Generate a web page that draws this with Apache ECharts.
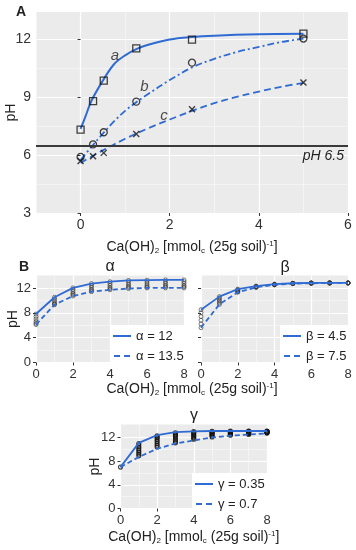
<!DOCTYPE html>
<html><head><meta charset="utf-8">
<script src="https://cdn.jsdelivr.net/npm/echarts@6/dist/echarts.min.js"></script>
<style>html,body{margin:0;padding:0;background:#fff}#c{width:356px;height:550px}</style>
</head><body><div id="c"></div>
<script>
// ---------- Panel A data ----------
const aCurveX = [0, 0.1, 0.25, 0.5, 0.75, 1, 1.25, 1.5, 2, 2.5, 3, 4, 5];
const aCurveY = [7.36, 7.95, 8.85, 9.87, 10.72, 11.18, 11.5, 11.72, 12.0, 12.13, 12.2, 12.27, 12.3];
const bCurveX = [0, 0.25, 0.5, 0.75, 1, 1.25, 1.5, 2, 2.5, 3, 3.5, 4, 4.5, 5];
const bCurveY = [5.75, 6.45, 7.12, 7.75, 8.3, 8.75, 9.15, 9.9, 10.55, 11.0, 11.35, 11.62, 11.87, 12.05];
const cCurveX = [0, 0.5, 1, 1.5, 2, 2.5, 3, 3.5, 4, 4.5, 5];
const cCurveY = [5.6, 6.25, 6.85, 7.38, 7.85, 8.3, 8.7, 9.02, 9.3, 9.55, 9.75];
const doseA = [0, 0.28, 0.52, 1.25, 2.5, 5];
const obsA = [7.33, 8.81, 9.87, 11.54, 12.0, 12.31];
const obsB = [5.91, 6.56, 7.19, 8.78, 10.8, 12.05];
const obsC = [5.7, 5.95, 6.12, 7.1, 8.38, 9.77];
const threshold = 6.5;
const curveNames = ['a', 'b', 'c'];
const curveNameX = [0.77, 1.43, 1.87];
const curveNameY = [11.15, 9.55, 8.04];
const aXTicks = [0, 2, 4, 6];
const aXMinor = [-1, 1, 3, 5];
const aYTicks = [3, 6, 9, 12];
const aYMinor = [4.5, 7.5, 10.5];

// ---------- Panel B data ----------
const doseB = [0, 1, 2, 3, 4, 5, 6, 7, 8];
const alphaLow = [7.8, 10.5, 12.0, 12.7, 13.0, 13.2, 13.25, 13.3, 13.3];   // alpha = 12
const alphaHigh = [6.1, 9.3, 10.7, 11.4, 11.7, 11.9, 12.0, 12.0, 12.0];    // alpha = 13.5
const alphaCols = [
  [7.8, 7.4, 7.0, 6.6, 6.3, 6.1],
  [10.5, 10.2, 9.9, 9.6, 9.4, 9.3],
  [12.0, 11.7, 11.4, 11.1, 10.9, 10.7],
  [12.7, 12.4, 12.1, 11.8, 11.6, 11.4],
  [13.0, 12.7, 12.4, 12.1, 11.9, 11.7],
  [13.2, 12.9, 12.6, 12.3, 12.1, 11.9],
  [13.25, 12.95, 12.65, 12.35, 12.15, 12.0],
  [13.3, 13.0, 12.7, 12.4, 12.2, 12.0],
  [13.3, 13.0, 12.7, 12.4, 12.2, 12.0]
];
const betaLow = [8.5, 10.6, 11.8, 12.3, 12.6, 12.75, 12.8, 12.8, 12.8];    // beta = 4.5
const betaHigh = [5.6, 9.35, 11.3, 12.1, 12.5, 12.7, 12.75, 12.8, 12.8];   // beta = 7.5
const betaCols = [
  [8.5, 8.0, 7.4, 6.8, 6.2, 5.6],
  [10.6, 10.35, 10.1, 9.85, 9.6, 9.35],
  [11.8, 11.7, 11.6, 11.5, 11.4, 11.3],
  [12.3, 12.25, 12.2, 12.15, 12.1, 12.1],
  [12.6, 12.58, 12.55, 12.53, 12.51, 12.5],
  [12.75, 12.74, 12.73, 12.72, 12.71, 12.7],
  [12.8, 12.79, 12.78, 12.77, 12.76, 12.75],
  [12.8, 12.8, 12.8, 12.8, 12.8, 12.8],
  [12.8, 12.8, 12.8, 12.8, 12.8, 12.8]
];
const gammaLow = [7.0, 11.1, 12.4, 12.9, 13.05, 13.1, 13.1, 13.1, 13.1];   // gamma = 0.35
const gammaHigh = [7.0, 8.7, 10.1, 11.0, 11.5, 12.0, 12.3, 12.5, 12.7];    // gamma = 0.7
const gammaCols = [
  [7.0],
  [11.0, 10.7, 10.4, 10.1, 9.8, 9.5, 9.2, 8.9],
  [12.3, 12.1, 11.9, 11.6, 11.3, 11.0, 10.7, 10.4],
  [12.8, 12.6, 12.4, 12.2, 11.9, 11.6, 11.3, 11.1],
  [13.0, 12.85, 12.7, 12.5, 12.3, 12.1, 11.9, 11.7],
  [13.05, 12.95, 12.85, 12.7, 12.55, 12.4, 12.25, 12.1],
  [13.1, 13.0, 12.9, 12.8, 12.7, 12.6, 12.5, 12.4],
  [13.1, 13.05, 12.95, 12.85, 12.8, 12.7, 12.6, 12.55],
  [13.1, 13.05, 13.0, 12.95, 12.9, 12.85, 12.8, 12.75]
];
const bXTicks = [0, 2, 4, 6, 8];
const bXMinor = [1, 3, 5, 7];
const bYTicks = [0, 4, 8, 12];
const bYMinor = [2, 6, 10];

// ---------- helpers ----------
const FONT = 'Liberation Sans, Arial, sans-serif';
const BLUE = '#2f6bd3';
const pairs = (xs, ys) => xs.map((x, i) => [x, ys[i]]);
const colPts = (xs, cols) => { const out = []; cols.forEach((c, i) => c.forEach(v => out.push([xs[i], v]))); return out; };
const subRich = {
  sub: { fontSize: 8, fontFamily: FONT, color: '#222', padding: [7, 0, 0, 0] },
  sup: { fontSize: 8, fontFamily: FONT, color: '#222', padding: [0, 0, 7, 0] }
};
const xName = 'Ca(OH){sub|2} [mmol{sub|c} (25g soil){sup|-1}]';
const ICON_SOLID = 'path://M0,0H18V2H0Z';
const ICON_DASH = 'path://M0,0H6V2H0ZM10,0H16V2H10Z';

function majorAxis(grid, min, max, ticks, showLabels, fs, extra) {
  return Object.assign({
    type: 'value', gridIndex: grid, min: min, max: max,
    axisLine: { show: false },
    axisTick: { show: true, length: 3, customValues: ticks, lineStyle: { color: '#333', width: 1 } },
    axisLabel: { show: showLabels, customValues: ticks, fontSize: fs, fontFamily: FONT, color: '#333', margin: 5 },
    splitLine: { show: true, lineStyle: { color: '#ffffff', width: 1.2 } }
  }, extra || {});
}
function minorAxis(grid, min, max, ticks, pos) {
  return {
    type: 'value', gridIndex: grid, min: min, max: max, position: pos,
    axisLine: { show: false },
    axisTick: { show: false, customValues: ticks },
    axisLabel: { show: false, customValues: ticks },
    splitLine: { show: true, lineStyle: { color: '#f8f8f8', width: 0.7 } }
  };
}
const yName = (gap) => ({
  name: 'pH', nameLocation: 'middle', nameGap: gap, nameMoveOverlap: false,
  nameTextStyle: { fontSize: 14, fontFamily: FONT, color: '#222' }
});

const grids = [
  { left: 36, top: 12, width: 312, height: 201 },
  { left: 36, top: 275.5, width: 148, height: 87 },
  { left: 201, top: 275.5, width: 147, height: 87 },
  { left: 120.5, top: 424.5, width: 146.5, height: 84 }
].map(g => Object.assign(g, { show: true, backgroundColor: '#ebebeb', borderWidth: 0, containLabel: false, outerBoundsMode: 'none' }));

const xAxes = [
  majorAxis(0, -1, 6, aXTicks, true, 14, {
    name: xName, nameLocation: 'middle', nameGap: 27,
    nameTextStyle: { fontSize: 14, fontFamily: FONT, color: '#222', rich: subRich }
  }),
  minorAxis(0, -1, 6, aXMinor, 'bottom'),
  majorAxis(1, 0, 8, bXTicks, true, 13),
  minorAxis(1, 0, 8, bXMinor, 'bottom'),
  majorAxis(2, 0, 8, bXTicks, true, 13),
  minorAxis(2, 0, 8, bXMinor, 'bottom'),
  majorAxis(3, 0, 8, bXTicks, true, 13, {
    name: xName, nameLocation: 'middle', nameGap: 21,
    nameTextStyle: { fontSize: 14, fontFamily: FONT, color: '#222', rich: subRich }
  }),
  minorAxis(3, 0, 8, bXMinor, 'bottom')
];
const yAxes = [
  majorAxis(0, 3, 13.43, aYTicks, true, 14, yName(18)),
  minorAxis(0, 3, 13.43, aYMinor, 'left'),
  majorAxis(1, 0, 14, bYTicks, true, 13, yName(16)),
  minorAxis(1, 0, 14, bYMinor, 'left'),
  majorAxis(2, 0, 14, bYTicks, false, 13),
  minorAxis(2, 0, 14, bYMinor, 'left'),
  majorAxis(3, 0, 14.2, bYTicks, true, 13, yName(18)),
  minorAxis(3, 0, 14.2, bYMinor, 'left')
];

const series = [];
// Panel A curves
series.push({ type: 'line', xAxisIndex: 0, yAxisIndex: 0, data: pairs(aCurveX, aCurveY), smooth: 0.35, symbol: 'none',
  lineStyle: { color: BLUE, width: 2 }, z: 3,
  markLine: { silent: true, symbol: 'none', data: [{ yAxis: threshold }],
    lineStyle: { color: '#3a3a3a', width: 2, type: 'solid' },
    label: { show: true, position: 'insideEndBottom', formatter: 'pH 6.5', fontStyle: 'italic', fontSize: 14, fontFamily: FONT, color: '#222', distance: [4, 4] } } });
series.push({ type: 'line', xAxisIndex: 0, yAxisIndex: 0, data: pairs(bCurveX, bCurveY), smooth: 0.35, symbol: 'none',
  lineStyle: { color: BLUE, width: 1.8, type: [7, 3, 2, 3] }, z: 3 });
series.push({ type: 'line', xAxisIndex: 0, yAxisIndex: 0, data: pairs(cCurveX, cCurveY), smooth: 0.35, symbol: 'none',
  lineStyle: { color: BLUE, width: 1.8, type: [7, 4] }, z: 3 });
// Panel A observations
series.push({ type: 'scatter', xAxisIndex: 0, yAxisIndex: 0, data: pairs(doseA, obsA), symbol: 'rect', symbolSize: 7,
  itemStyle: { color: 'rgba(0,0,0,0)', borderColor: '#111', borderWidth: 1.3 }, z: 4 });
series.push({ type: 'scatter', xAxisIndex: 0, yAxisIndex: 0, data: pairs(doseA, obsB), symbol: 'circle', symbolSize: 7,
  itemStyle: { color: 'rgba(0,0,0,0)', borderColor: '#111', borderWidth: 1.3 }, z: 4 });
series.push({ type: 'scatter', xAxisIndex: 0, yAxisIndex: 0, data: pairs(doseA, obsC), symbol: 'path://M0,0L10,10M10,0L0,10', symbolSize: 6,
  itemStyle: { color: 'rgba(0,0,0,0)', borderColor: '#111', borderWidth: 1.4 }, z: 4 });
// curve names
series.push({ type: 'scatter', xAxisIndex: 0, yAxisIndex: 0, symbolSize: 0, silent: true, z: 5,
  data: curveNames.map((n, i) => ({ name: n, value: [curveNameX[i], curveNameY[i]] })),
  label: { show: true, position: 'inside', formatter: '{b}', fontStyle: 'italic', fontSize: 15, fontFamily: FONT, color: '#222' } });

// Panel B
function addPanel(gi, cols, low, high, nLow, nHigh, ptStyle) {
  const xi = gi * 2, yi = gi * 2;
  series.push({ type: 'scatter', xAxisIndex: xi, yAxisIndex: yi, data: colPts(doseB, cols), symbol: 'circle', symbolSize: ptStyle.size,
    itemStyle: { color: 'rgba(0,0,0,0)', borderColor: ptStyle.color, borderWidth: ptStyle.bw }, z: 2, silent: true });
  series.push({ name: nLow, type: 'line', xAxisIndex: xi, yAxisIndex: yi, data: pairs(doseB, low), symbol: 'none',
    itemStyle: { color: BLUE }, lineStyle: { color: BLUE, width: 1.8 }, z: 3 });
  series.push({ name: nHigh, type: 'line', xAxisIndex: xi, yAxisIndex: yi, data: pairs(doseB, high), symbol: 'none',
    itemStyle: { color: BLUE }, lineStyle: { color: BLUE, width: 1.8, type: [5, 3] }, z: 3 });
}
addPanel(1, alphaCols, alphaLow, alphaHigh, 'α = 12', 'α = 13.5', { size: 4, color: '#333', bw: 0.8 });
addPanel(2, betaCols, betaLow, betaHigh, 'β = 4.5', 'β = 7.5', { size: 4, color: '#333', bw: 0.8 });
addPanel(3, gammaCols, gammaLow, gammaHigh, 'γ = 0.35', 'γ = 0.7', { size: 4, color: '#111', bw: 1.1 });

const legendBase = { orient: 'vertical', itemWidth: 18, itemHeight: 2, itemGap: 6, padding: [4, 4, 4, 3],
  backgroundColor: '#ffffff', textStyle: { fontSize: 13, fontFamily: FONT, color: '#222', lineHeight: 14 }, selectedMode: false,
  itemStyle: { color: BLUE, borderWidth: 0 } };
const legItems = (a, b) => [{ name: a, icon: ICON_SOLID }, { name: b, icon: ICON_DASH }];
const legends = [
  Object.assign({}, legendBase, { left: 110, top: 325, data: legItems('α = 12', 'α = 13.5') }),
  Object.assign({}, legendBase, { left: 280, top: 325, data: legItems('β = 4.5', 'β = 7.5') }),
  Object.assign({}, legendBase, { left: 192, top: 473, data: legItems('γ = 0.35', 'γ = 0.7') })
];

const txt = (x, y, text, style) => ({ type: 'text', x: x, y: y,
  style: Object.assign({ text: text, fontFamily: FONT, fill: '#222', align: 'center', verticalAlign: 'middle' }, style) });

const chart = echarts.init(document.getElementById('c'), null, { renderer: 'canvas' });
chart.setOption({
  animation: false,
  backgroundColor: '#ffffff',
  grid: grids, xAxis: xAxes, yAxis: yAxes, series: series, legend: legends,
  graphic: [
    txt(21, 12, 'A', { fontSize: 14, fontWeight: 'bold' }),
    txt(24, 267, 'B', { fontSize: 14, fontWeight: 'bold' }),
    txt(110, 267, 'α', { fontSize: 16 }),
    txt(285, 268, 'β', { fontSize: 16 }),
    txt(194, 416, 'γ', { fontSize: 16 }),
    { type: 'text', x: 192, y: 389, style: { text: xName, rich: subRich, fontSize: 14, fontFamily: FONT, fill: '#222', align: 'center', verticalAlign: 'middle' } }
  ]
});
</script></body></html>
